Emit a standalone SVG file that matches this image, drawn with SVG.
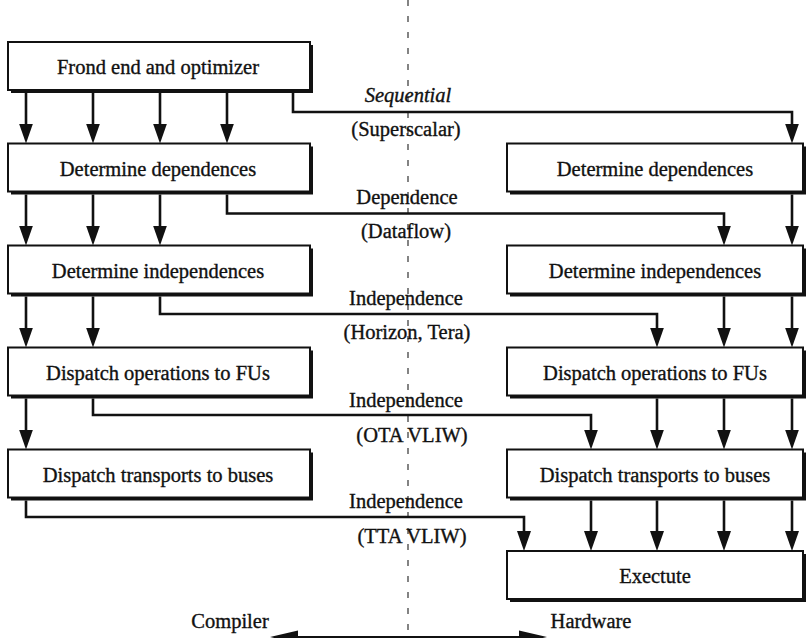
<svg xmlns="http://www.w3.org/2000/svg" width="808" height="638" viewBox="0 0 808 638">
  <style>
    .box { fill: #fff; stroke: #111; stroke-width: 2; }
    .shadow { fill: #111; }
    .t { font-size: 20.5px; fill: #111; stroke: #111; stroke-width: 0.35; text-anchor: middle; }
    .it { font-style: italic; }
    .wire { fill: none; stroke: #111; stroke-width: 2.6; }
    .divider { stroke: #333; stroke-width: 1.2; stroke-dasharray: 6 10; }
  </style>
  <defs>
    <marker id="ah" markerUnits="userSpaceOnUse" markerWidth="22" markerHeight="16" refX="14" refY="7" orient="auto">
      <path d="M0,0 L20,7 L0,14 z" fill="#111"/>
    </marker>
  </defs>

  <rect width="808" height="638" fill="#fff"/>

  <!-- compiler / hardware boundary -->
  <line class="divider" x1="408" y1="0" x2="408" y2="638"/>

  <g font-family="Liberation Serif, Tinos, Times New Roman, DejaVu Serif, serif">
  <!-- compiler column -->
  <g id="c-frontend">
    <rect class="shadow" x="11" y="45" width="302" height="48"/>
    <rect class="box" x="8" y="42" width="302" height="48"/>
    <text class="t" x="158" y="74">Frond end and optimizer</text>
  </g>
  <g id="c-deps">
    <rect class="shadow" x="11" y="146.5" width="302" height="48"/>
    <rect class="box" x="8" y="143.5" width="302" height="48"/>
    <text class="t" x="158" y="175.5">Determine dependences</text>
  </g>
  <g id="c-indeps">
    <rect class="shadow" x="11" y="248.5" width="302" height="48"/>
    <rect class="box" x="8" y="245.5" width="302" height="48"/>
    <text class="t" x="158" y="277.5">Determine independences</text>
  </g>
  <g id="c-dispatch-ops">
    <rect class="shadow" x="11" y="350.5" width="302" height="48"/>
    <rect class="box" x="8" y="347.5" width="302" height="48"/>
    <text class="t" x="158" y="379.5">Dispatch operations to FUs</text>
  </g>
  <g id="c-dispatch-tr">
    <rect class="shadow" x="11" y="452.5" width="302" height="48"/>
    <rect class="box" x="8" y="449.5" width="302" height="48"/>
    <text class="t" x="158" y="481.5">Dispatch transports to buses</text>
  </g>

  <!-- hardware column -->
  <g id="h-deps">
    <rect class="shadow" x="510" y="146.5" width="296" height="48"/>
    <rect class="box" x="507" y="143.5" width="296" height="48"/>
    <text class="t" x="655" y="175.5">Determine dependences</text>
  </g>
  <g id="h-indeps">
    <rect class="shadow" x="510" y="248.5" width="296" height="48"/>
    <rect class="box" x="507" y="245.5" width="296" height="48"/>
    <text class="t" x="655" y="277.5">Determine independences</text>
  </g>
  <g id="h-dispatch-ops">
    <rect class="shadow" x="510" y="350.5" width="296" height="48"/>
    <rect class="box" x="507" y="347.5" width="296" height="48"/>
    <text class="t" x="655" y="379.5">Dispatch operations to FUs</text>
  </g>
  <g id="h-dispatch-tr">
    <rect class="shadow" x="510" y="452.5" width="296" height="48"/>
    <rect class="box" x="507" y="449.5" width="296" height="48"/>
    <text class="t" x="655" y="481.5">Dispatch transports to buses</text>
  </g>
  <g id="h-execute">
    <rect class="shadow" x="510" y="554" width="296" height="48"/>
    <rect class="box" x="507" y="551" width="296" height="48"/>
    <text class="t" x="655" y="583">Exectute</text>
  </g>

  <!-- model labels -->
  <g id="labels">
    <text class="t it" x="408" y="102">Sequential</text>
    <text class="t" x="406" y="136">(Superscalar)</text>
    <text class="t" x="407" y="204">Dependence</text>
    <text class="t" x="406" y="238">(Dataflow)</text>
    <text class="t" x="406" y="305">Independence</text>
    <text class="t" x="407" y="339">(Horizon, Tera)</text>
    <text class="t" x="406" y="407">Independence</text>
    <text class="t" x="412" y="442">(OTA VLIW)</text>
    <text class="t" x="406" y="508">Independence</text>
    <text class="t" x="412" y="543">(TTA VLIW)</text>
    <text class="t" x="230" y="628">Compiler</text>
    <text class="t" x="591" y="628">Hardware</text>
  </g>
  </g>

  <!-- connectors -->
  <g id="connectors">
    <!-- compiler column fan-out -->
    <path class="wire" marker-end="url(#ah)" d="M26,93 V137.5"/>
    <path class="wire" marker-end="url(#ah)" d="M93,93 V137.5"/>
    <path class="wire" marker-end="url(#ah)" d="M160,93 V137.5"/>
    <path class="wire" marker-end="url(#ah)" d="M227,93 V137.5"/>
    <path class="wire" marker-end="url(#ah)" d="M26,194.5 V239.5"/>
    <path class="wire" marker-end="url(#ah)" d="M93,194.5 V239.5"/>
    <path class="wire" marker-end="url(#ah)" d="M160,194.5 V239.5"/>
    <path class="wire" marker-end="url(#ah)" d="M26,296.5 V341.5"/>
    <path class="wire" marker-end="url(#ah)" d="M93,296.5 V341.5"/>
    <path class="wire" marker-end="url(#ah)" d="M26,398.5 V443.5"/>

    <!-- hand-over points to hardware -->
    <path class="wire" marker-end="url(#ah)" d="M293,93 V112 H792 V137.5"/>
    <path class="wire" marker-end="url(#ah)" d="M227,194.5 V213.5 H724 V239.5"/>
    <path class="wire" marker-end="url(#ah)" d="M160,296.5 V314 H657 V341.5"/>
    <path class="wire" marker-end="url(#ah)" d="M93,398.5 V415 H591 V443.5"/>
    <path class="wire" marker-end="url(#ah)" d="M26,500.5 V517 H524 V545"/>

    <!-- hardware column fan-out -->
    <path class="wire" marker-end="url(#ah)" d="M792,194.5 V239.5"/>
    <path class="wire" marker-end="url(#ah)" d="M724,296.5 V341.5"/>
    <path class="wire" marker-end="url(#ah)" d="M792,296.5 V341.5"/>
    <path class="wire" marker-end="url(#ah)" d="M657,398.5 V443.5"/>
    <path class="wire" marker-end="url(#ah)" d="M724,398.5 V443.5"/>
    <path class="wire" marker-end="url(#ah)" d="M792,398.5 V443.5"/>
    <path class="wire" marker-end="url(#ah)" d="M591,500.5 V545"/>
    <path class="wire" marker-end="url(#ah)" d="M657,500.5 V545"/>
    <path class="wire" marker-end="url(#ah)" d="M724,500.5 V545"/>
    <path class="wire" marker-end="url(#ah)" d="M792,500.5 V545"/>

    <!-- compiler/hardware axis -->
    <line x1="290" y1="637" x2="527" y2="637" stroke="#111" stroke-width="2"/>
    <polygon points="270,637 298,630.5 298,643.5" fill="#111"/>
    <polygon points="547,637 519,630.5 519,643.5" fill="#111"/>
  </g>
</svg>
